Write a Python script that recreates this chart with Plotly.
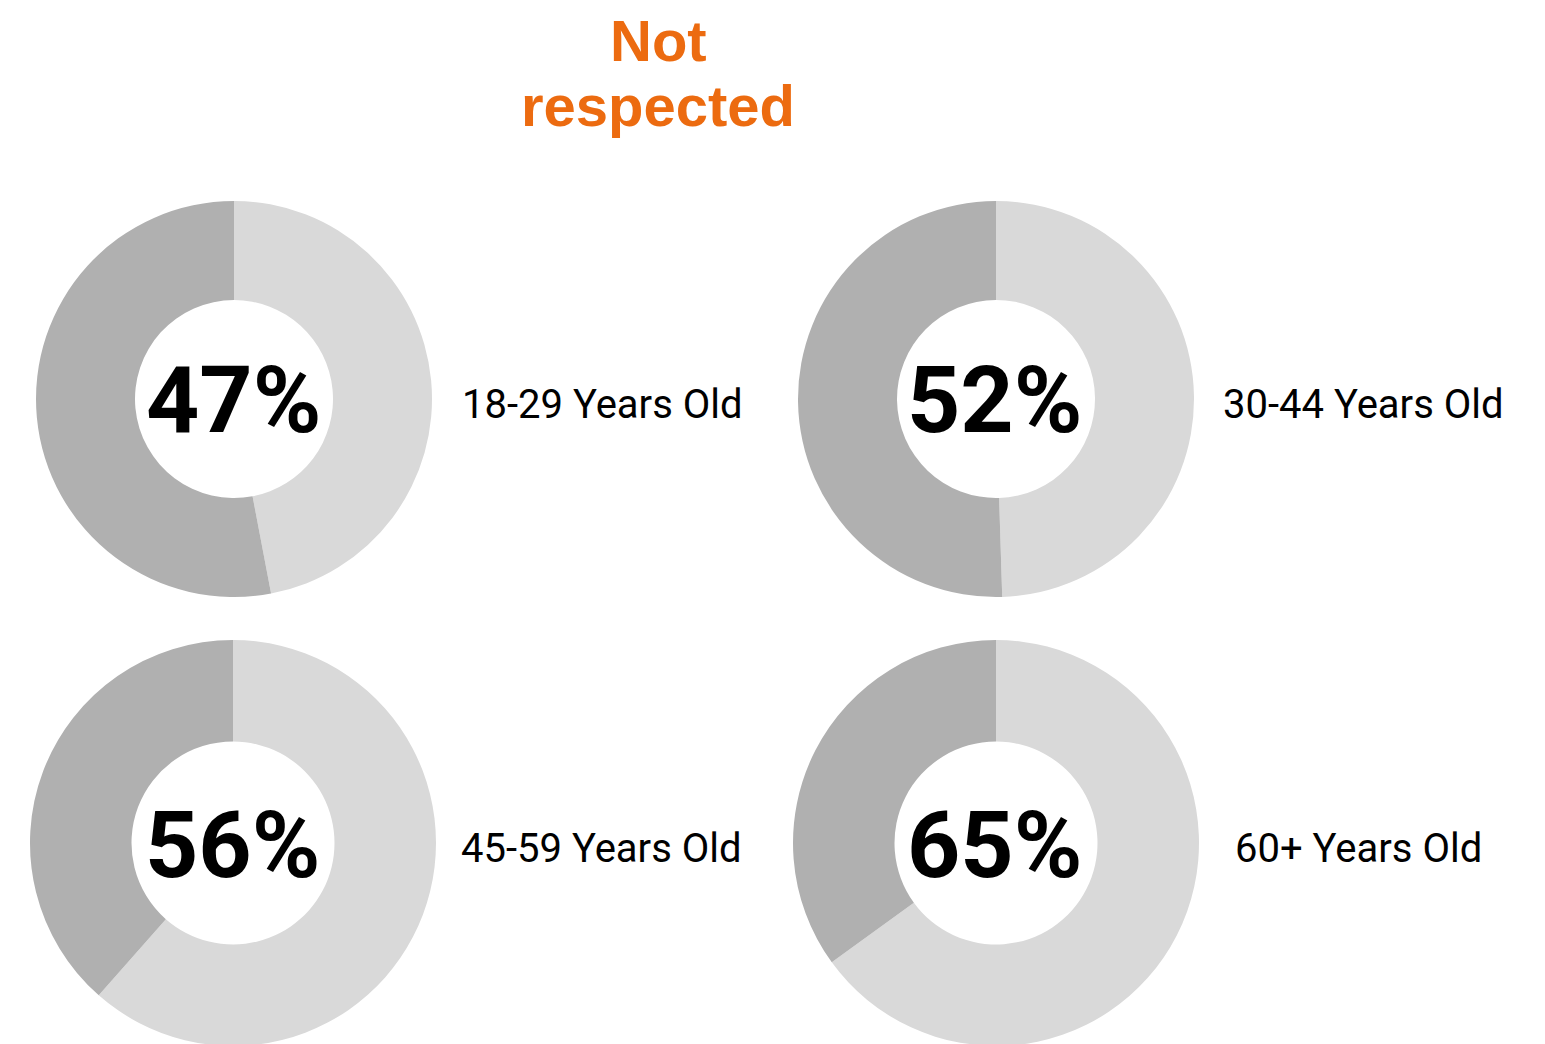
import plotly.graph_objects as go

W, H = 1545, 1044
OFF = 8  # page body offset

groups = ["18-29 Years Old", "30-44 Years Old", "45-59 Years Old", "60+ Years Old"]
labels_pct = ["47%", "52%", "56%", "65%"]
slice_share = [47, 49.5, 61.5, 65]   # visible light-grey slice
title_lines = ["Not", "respected"]

# pixel layout in screenshot: (cx, cy, radius)
geom = [(234, 399, 198), (996, 399, 198), (233, 843, 203), (996, 843, 203)]
label_pos = [(602, 404), (1363, 404), (601, 848), (1358, 848)]
title_pos = [(658, 40.5), (658, 105.5)]

LIGHT = "#d9d9d9"
DARK = "#b0b0b0"
ORANGE = "#ec6b10"


def px(x):
    return (x - OFF) / W


def py(y):
    return 1 - (y - OFF) / H


fig = go.Figure()
for i, (g, v) in enumerate(zip(groups, slice_share)):
    cx, cy, r = geom[i]
    fig.add_trace(go.Pie(
        values=[v, 100 - v],
        labels=["Not respected", "Other"],
        hole=0.5,
        sort=False,
        direction="clockwise",
        rotation=0,
        marker=dict(colors=[LIGHT, DARK], line=dict(width=0)),
        textinfo="none",
        hoverinfo="skip",
        showlegend=False,
        domain=dict(x=[px(cx - r), px(cx + r)],
                    y=[max(0, py(cy + r)), min(1, py(cy - r))]),
    ))

ann = []
for i, p in enumerate(labels_pct):
    cx, cy, r = geom[i]
    ann.append(dict(x=px(cx - 1), y=py(cy + 2), xref="paper", yref="paper",
                    text=f"<b>{p}</b>", showarrow=False,
                    font=dict(family="Roboto", size=93, color="#000000"),
                    xanchor="center", yanchor="middle"))
for i, g in enumerate(groups):
    x, y = label_pos[i]
    ann.append(dict(x=px(x), y=py(y), xref="paper", yref="paper",
                    text=g, showarrow=False,
                    font=dict(family="Roboto", size=40, color="#000000"),
                    xanchor="center", yanchor="middle"))
for (x, y), t in zip(title_pos, title_lines):
    ann.append(dict(x=px(x), y=py(y), xref="paper", yref="paper",
                    text=f"<b>{t}</b>", showarrow=False,
                    borderpad=0, borderwidth=0,
                    font=dict(family="Liberation Sans", size=58, color=ORANGE),
                    xanchor="center", yanchor="middle"))

fig.update_layout(
    width=W, height=H,
    margin=dict(l=0, r=0, t=0, b=0),
    paper_bgcolor="white", plot_bgcolor="white",
    annotations=ann,
)
fig.write_html("out.html")
